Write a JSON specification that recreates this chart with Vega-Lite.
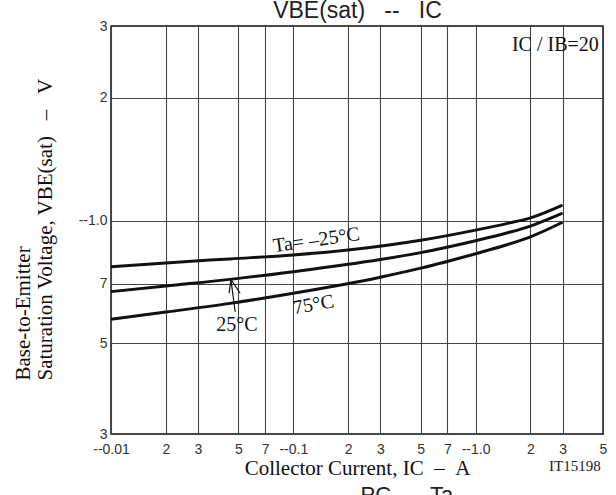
{
  "$schema": "https://vega.github.io/schema/vega-lite/v6.json",
  "width": 492,
  "height": 408,
  "autosize": {"type": "none"},
  "padding": {"left": 111, "top": 26, "right": 13, "bottom": 61},
  "background": "white",
  "config": {
    "view": {"stroke": "#111", "strokeWidth": 1.5},
    "font": "Liberation Sans"
  },
  "datasets": {
    "curves": [
      {"ta": "-25", "ic": 0.01, "vbe": 0.771},
      {"ta": "-25", "ic": 0.02, "vbe": 0.788},
      {"ta": "-25", "ic": 0.045, "vbe": 0.806},
      {"ta": "-25", "ic": 0.1, "vbe": 0.824},
      {"ta": "-25", "ic": 0.2, "vbe": 0.847},
      {"ta": "-25", "ic": 0.5, "vbe": 0.895},
      {"ta": "-25", "ic": 1.0, "vbe": 0.948},
      {"ta": "-25", "ic": 1.5, "vbe": 0.985},
      {"ta": "-25", "ic": 2.0, "vbe": 1.016},
      {"ta": "-25", "ic": 3.0, "vbe": 1.092},
      {"ta": "25", "ic": 0.01, "vbe": 0.670},
      {"ta": "25", "ic": 0.02, "vbe": 0.692},
      {"ta": "25", "ic": 0.045, "vbe": 0.718},
      {"ta": "25", "ic": 0.1, "vbe": 0.750},
      {"ta": "25", "ic": 0.3, "vbe": 0.803},
      {"ta": "25", "ic": 0.5, "vbe": 0.835},
      {"ta": "25", "ic": 1.0, "vbe": 0.893},
      {"ta": "25", "ic": 1.5, "vbe": 0.934},
      {"ta": "25", "ic": 2.0, "vbe": 0.970},
      {"ta": "25", "ic": 3.0, "vbe": 1.043},
      {"ta": "75", "ic": 0.01, "vbe": 0.573},
      {"ta": "75", "ic": 0.02, "vbe": 0.597},
      {"ta": "75", "ic": 0.045, "vbe": 0.627},
      {"ta": "75", "ic": 0.1, "vbe": 0.664},
      {"ta": "75", "ic": 0.3, "vbe": 0.727},
      {"ta": "75", "ic": 0.5, "vbe": 0.765},
      {"ta": "75", "ic": 1.0, "vbe": 0.830},
      {"ta": "75", "ic": 1.5, "vbe": 0.874},
      {"ta": "75", "ic": 2.0, "vbe": 0.913},
      {"ta": "75", "ic": 3.0, "vbe": 0.991}
    ],
    "labels": [
      {"name": "title", "ic": 0.225, "vbe": 3.14, "text": "VBE(sat)\u00a0\u00a0\u00a0--\u00a0\u00a0\u00a0IC"},
      {"name": "m25", "ic": 0.134, "vbe": 0.896, "text": "Ta= –25°C"},
      {"name": "p75", "ic": 0.129, "vbe": 0.622, "text": "75°C"},
      {"name": "p25", "ic": 0.049, "vbe": 0.555, "text": "25°C"},
      {"name": "ratio", "ic": 4.74, "vbe": 2.69, "text": "IC / IB=20"},
      {"name": "code", "ic": 4.86, "vbe": 0.25, "text": "IT15198"},
      {"name": "next", "ic": 0.42, "vbe": 0.204, "text": "PC\u00a0\u00a0--\u00a0\u00a0Ta"}
    ],
    "arrow": [
      {"ic": 0.048, "vbe": 0.598, "ic2": 0.04545, "vbe2": 0.718},
      {"ic": 0.04448, "vbe": 0.664, "ic2": 0.04545, "vbe2": 0.718},
      {"ic": 0.0511, "vbe": 0.664, "ic2": 0.04545, "vbe2": 0.718}
    ]
  },
  "layer": [
    {
      "data": {"name": "curves"},
      "mark": {"type": "line", "color": "#111", "strokeWidth": 3, "interpolate": "monotone"},
      "encoding": {
        "x": {
          "field": "ic",
          "type": "quantitative",
          "scale": {"type": "log", "domain": [0.01, 5], "nice": false},
          "axis": {
            "values": [0.01, 0.02, 0.03, 0.05, 0.07, 0.1, 0.2, 0.3, 0.5, 0.7, 1, 2, 3, 5],
            "labelExpr": "datum.value == 0.01 ? '--0.01' : datum.value == 0.1 ? '--0.1' : datum.value == 1 ? '--1.0' : substring(format(datum.value, '.0e'), 0, 1)",
            "grid": true,
            "gridColor": "#444",
            "gridWidth": 1.1,
            "domain": false,
            "ticks": false,
            "labelPadding": 8,
            "labelFont": "Liberation Sans",
            "labelFontSize": 14,
            "labelColor": "#333",
            "labelFlush": false,
            "labelOverlap": false,
            "labelBaseline": "top",
            "title": "Collector Current, IC\u00a0\u00a0–\u00a0\u00a0A",
            "titleFont": "Liberation Serif",
            "titleFontSize": 21,
            "titleFontWeight": "normal",
            "titleColor": "#111",
            "titleBaseline": "alphabetic",
            "titleY": 40
          }
        },
        "y": {
          "field": "vbe",
          "type": "quantitative",
          "scale": {"type": "log", "domain": [0.3, 3], "nice": false},
          "axis": {
            "values": [0.3, 0.5, 0.7, 1, 2, 3],
            "labelExpr": "datum.value == 1 ? '--1.0' : substring(format(datum.value, '.0e'), 0, 1)",
            "grid": true,
            "gridColor": "#444",
            "gridWidth": 1.1,
            "domain": false,
            "ticks": false,
            "labelPadding": 4,
            "labelFont": "Liberation Sans",
            "labelFontSize": 14,
            "labelColor": "#333",
            "labelFlush": false,
            "labelOverlap": false,
            "title": ["Base-to-Emitter", "Saturation Voltage, VBE(sat)\u00a0\u00a0\u00a0–\u00a0\u00a0\u00a0V"],
            "titleFont": "Liberation Serif",
            "titleFontSize": 21,
            "titleFontWeight": "normal",
            "titleColor": "#111",
            "titleAngle": -90,
            "titleAlign": "left",
            "titleBaseline": "top",
            "titleLineHeight": 22,
            "titleX": -99,
            "titleY": 354
          }
        },
        "detail": {"field": "ta", "type": "nominal"}
      }
    },
    {
      "data": {"name": "arrow"},
      "mark": {"type": "rule", "color": "#111", "strokeWidth": 1.2},
      "encoding": {
        "x": {"field": "ic", "type": "quantitative"},
        "y": {"field": "vbe", "type": "quantitative"},
        "x2": {"field": "ic2"},
        "y2": {"field": "vbe2"}
      }
    },
    {
      "data": {"name": "labels"},
      "transform": [{"filter": "datum.name == 'title'"}],
      "mark": {"type": "text", "font": "Liberation Sans", "fontSize": 23, "color": "#222", "align": "center", "baseline": "alphabetic"},
      "encoding": {
        "x": {"field": "ic", "type": "quantitative"},
        "y": {"field": "vbe", "type": "quantitative"},
        "text": {"field": "text"}
      }
    },
    {
      "data": {"name": "labels"},
      "transform": [{"filter": "datum.name == 'm25'"}],
      "mark": {"type": "text", "font": "Liberation Serif", "fontSize": 20, "color": "#111", "angle": -8, "align": "center", "baseline": "middle"},
      "encoding": {
        "x": {"field": "ic", "type": "quantitative"},
        "y": {"field": "vbe", "type": "quantitative"},
        "text": {"field": "text"}
      }
    },
    {
      "data": {"name": "labels"},
      "transform": [{"filter": "datum.name == 'p75'"}],
      "mark": {"type": "text", "font": "Liberation Serif", "fontSize": 20, "color": "#111", "angle": -10, "align": "center", "baseline": "middle"},
      "encoding": {
        "x": {"field": "ic", "type": "quantitative"},
        "y": {"field": "vbe", "type": "quantitative"},
        "text": {"field": "text"}
      }
    },
    {
      "data": {"name": "labels"},
      "transform": [{"filter": "datum.name == 'p25'"}],
      "mark": {"type": "text", "font": "Liberation Serif", "fontSize": 20, "color": "#111", "align": "center", "baseline": "middle"},
      "encoding": {
        "x": {"field": "ic", "type": "quantitative"},
        "y": {"field": "vbe", "type": "quantitative"},
        "text": {"field": "text"}
      }
    },
    {
      "data": {"name": "labels"},
      "transform": [{"filter": "datum.name == 'ratio'"}],
      "mark": {"type": "text", "font": "Liberation Serif", "fontSize": 20, "color": "#111", "align": "right", "baseline": "middle"},
      "encoding": {
        "x": {"field": "ic", "type": "quantitative"},
        "y": {"field": "vbe", "type": "quantitative"},
        "text": {"field": "text"}
      }
    },
    {
      "data": {"name": "labels"},
      "transform": [{"filter": "datum.name == 'code'"}],
      "mark": {"type": "text", "font": "Liberation Serif", "fontSize": 15, "color": "#222", "align": "right", "baseline": "middle"},
      "encoding": {
        "x": {"field": "ic", "type": "quantitative"},
        "y": {"field": "vbe", "type": "quantitative"},
        "text": {"field": "text"}
      }
    },
    {
      "data": {"name": "labels"},
      "transform": [{"filter": "datum.name == 'next'"}],
      "mark": {"type": "text", "font": "Liberation Sans", "fontSize": 22, "color": "#222", "align": "center", "baseline": "alphabetic"},
      "encoding": {
        "x": {"field": "ic", "type": "quantitative"},
        "y": {"field": "vbe", "type": "quantitative"},
        "text": {"field": "text"}
      }
    }
  ]
}
